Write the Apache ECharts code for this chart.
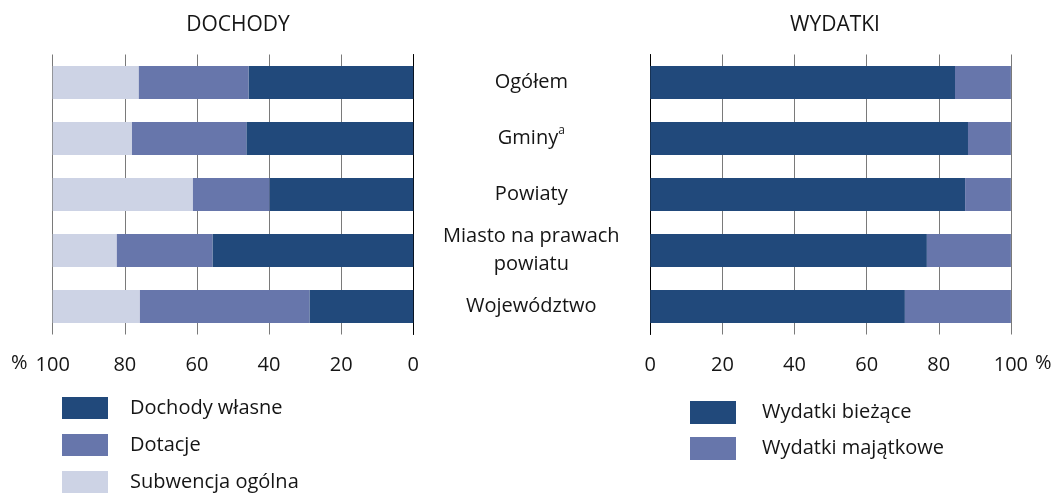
<!DOCTYPE html>
<html>
<head>
<meta charset="utf-8">
<script src="https://cdn.jsdelivr.net/npm/echarts@6/dist/echarts.min.js"></script>
<style>
html,body{margin:0;padding:0;background:#fff;}
#c{width:1053px;height:495px;}
</style>
</head>
<body>
<div id="c"></div>
<script>
const categories = ['Ogółem', 'Gminy{sup|a}', 'Powiaty', 'Miasto na prawach\npowiatu', 'Województwo'];
const dochodyWlasne = [45.7, 46.3, 39.9, 55.7, 28.8];
const dotacje = [30.5, 31.8, 21.3, 26.6, 47.1];
const subwencja = [23.8, 21.9, 38.8, 17.7, 24.1];
const wydatkiBiezace = [84.5, 88.1, 87.3, 76.7, 70.6];
const wydatkiMajatkowe = [15.5, 11.9, 12.7, 23.3, 29.4];
const tickValues = [0, 20, 40, 60, 80, 100];

const FONT = 'Open Sans';
const FS = 20;
const C_DARK = '#21497b', C_MID = '#6776ab', C_LIGHT = '#cdd3e5';
const TXT = '#151515';
const chart = echarts.init(document.getElementById('c'), null, {renderer: 'canvas'});

const xAxisCommon = {
  type: 'value', min: 0, max: 100, interval: 20,
  axisLine: {show: false}, axisTick: {show: false},
  splitLine: {show: true, lineStyle: {color: '#7a7a7a', width: 1}},
  axisLabel: {fontFamily: FONT, fontSize: FS, color: TXT, margin: 21}
};

chart.setOption({
  animation: false,
  textStyle: {fontFamily: FONT},
  title: [
    {text: 'DOCHODY', left: 233, top: 10, textAlign: 'center',
     textStyle: {fontFamily: FONT, fontSize: 21, fontWeight: 'normal', color: TXT}},
    {text: 'WYDATKI', left: 830, top: 10, textAlign: 'center',
     textStyle: {fontFamily: FONT, fontSize: 21, fontWeight: 'normal', color: TXT}}
  ],
  legend: [
    {data: ['Dochody własne', 'Dotacje', 'Subwencja ogólna'], orient: 'vertical',
     left: 62, top: 397, padding: 0, itemWidth: 46, itemHeight: 22, itemGap: 15, icon: 'rect',
     textStyle: {fontFamily: FONT, fontSize: FS, color: TXT, padding: [0, 0, 0, 17]}},
    {data: ['Wydatki bieżące', 'Wydatki majątkowe'], orient: 'vertical',
     left: 690, top: 401, padding: 0, itemWidth: 46, itemHeight: 23, itemGap: 13, icon: 'rect',
     textStyle: {fontFamily: FONT, fontSize: FS, color: TXT, padding: [0, 0, 0, 21]}}
  ],
  grid: [
    {left: 52.7, width: 360.6, top: 54.5, height: 280},
    {left: 650.3, width: 360.6, top: 54.5, height: 280}
  ],
  xAxis: [
    Object.assign({}, xAxisCommon, {gridIndex: 0, inverse: true}),
    Object.assign({}, xAxisCommon, {gridIndex: 1})
  ],
  yAxis: [
    {type: 'category', gridIndex: 0, data: categories, inverse: true, position: 'right',
     axisLine: {show: true, lineStyle: {color: '#000', width: 1}}, axisTick: {show: false},
     axisLabel: {show: true, align: 'center', margin: 118, lineHeight: 28,
       fontFamily: FONT, fontSize: FS, color: TXT,
       rich: {sup: {fontSize: 12, verticalAlign: 'top', padding: [0, 0, 6, 0], fontFamily: FONT, color: TXT}}}},
    {type: 'category', gridIndex: 1, data: categories, inverse: true, position: 'left',
     axisLine: {show: true, lineStyle: {color: '#000', width: 1}}, axisTick: {show: false},
     axisLabel: {show: false}}
  ],
  series: [
    {name: 'Dochody własne', type: 'bar', stack: 'd', xAxisIndex: 0, yAxisIndex: 0,
     data: dochodyWlasne, barCategoryGap: '41%', itemStyle: {color: C_DARK}},
    {name: 'Dotacje', type: 'bar', stack: 'd', xAxisIndex: 0, yAxisIndex: 0,
     data: dotacje, barCategoryGap: '41%', itemStyle: {color: C_MID}},
    {name: 'Subwencja ogólna', type: 'bar', stack: 'd', xAxisIndex: 0, yAxisIndex: 0,
     data: subwencja, barCategoryGap: '41%', itemStyle: {color: C_LIGHT}},
    {name: 'Wydatki bieżące', type: 'bar', stack: 'w', xAxisIndex: 1, yAxisIndex: 1,
     data: wydatkiBiezace, barCategoryGap: '41%', itemStyle: {color: C_DARK}},
    {name: 'Wydatki majątkowe', type: 'bar', stack: 'w', xAxisIndex: 1, yAxisIndex: 1,
     data: wydatkiMajatkowe, barCategoryGap: '41%', itemStyle: {color: C_MID}}
  ],
  graphic: [
    {type: 'text', left: 11, top: 353, style: {text: '%', font: '20px "Open Sans"', fill: TXT}},
    {type: 'text', left: 1035, top: 353, style: {text: '%', font: '20px "Open Sans"', fill: TXT}}
  ]
});
</script>
</body>
</html>
